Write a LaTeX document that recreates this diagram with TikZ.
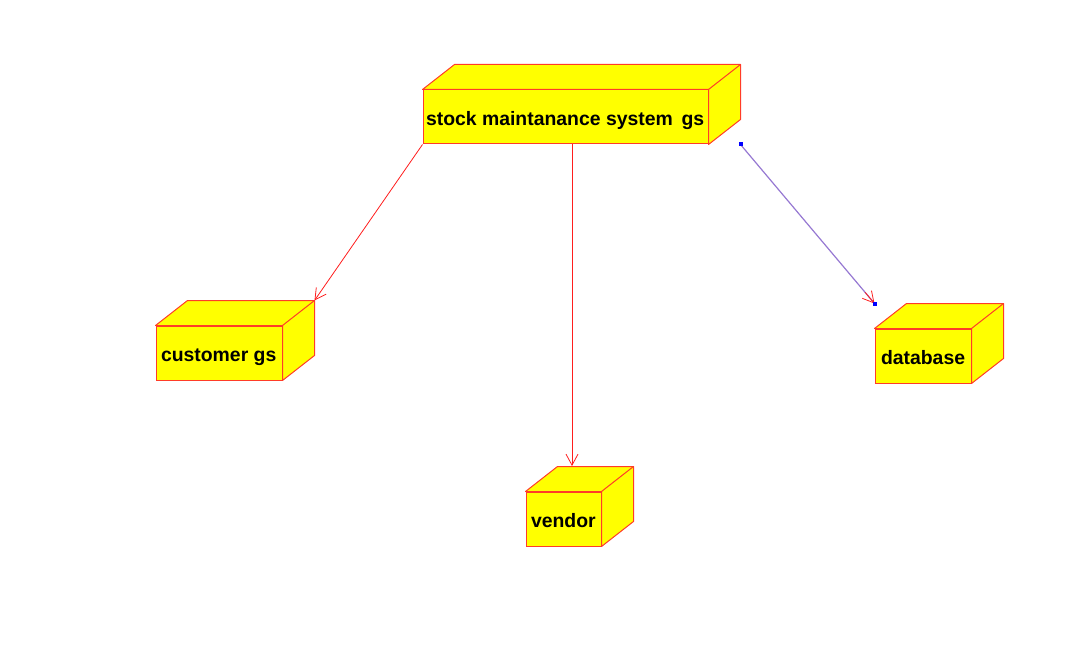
\documentclass[tikz,border=0pt]{standalone}
\usepackage{fontspec}
\setmainfont{Liberation Sans}
\usetikzlibrary{arrows.meta,calc}
\definecolor{boxline}{RGB}{255,60,40}
\definecolor{boxfill}{RGB}{255,255,0}
\definecolor{conn}{RGB}{255,30,30}
\definecolor{selconn}{RGB}{150,120,210}
\definecolor{handle}{RGB}{0,0,255}
\tikzset{
  front/.style={draw=boxline, fill=boxfill, line width=1pt, rectangle, minimum height=54pt,
    inner xsep=0pt, inner ysep=0pt, text height=17pt, text depth=0pt,
    font=\fontsize{19.4}{22}\selectfont\bfseries},
  cubeside/.style={draw=boxline, fill=boxfill, line width=1pt, line join=round},
  barb/.tip={Straight Barb[length=11pt,width=12pt,line width=0.8pt]},
  depend/.style={draw=conn, line width=0.8pt, -barb},
  handlesq/.style={fill=handle, minimum size=4pt, inner sep=0pt, rectangle}
}
\newcommand{\cubetop}[1]{%
  \path[cubeside] (#1.north west) -- ([shift={(32,-25)}]#1.north west) -- ([shift={(32,-25)}]#1.north east)
    -- ([shift={(32,-25)}]#1.south east) -- (#1.south east) -- (#1.north east) -- cycle;
  \draw[cubeside, fill=none] (#1.north east) -- ([shift={(32,-25)}]#1.north east);
}
\begin{document}
\begin{tikzpicture}[x=1pt,y=-1pt]
\useasboundingbox (0,0) rectangle (1066,647);
\node[front, minimum width=285pt] (main) at (565.5,117) {\makebox[279pt][l]{stock maintanance system\ \,gs}};
\node[front, minimum width=126pt] (cust) at (219,353) {\makebox[116pt][l]{customer gs}};
\node[front, minimum width=75pt] (vend) at (563.5,519) {\makebox[65pt][l]{vendor}};
\node[front, minimum width=96pt] (db) at (923,356) {\makebox[84pt][l]{database}};
\cubetop{main}
\cubetop{cust}
\cubetop{vend}
\cubetop{db}
\coordinate (custTR) at ([shift={(32,-25)}]cust.north east);
\coordinate (vendTop) at (572,466);
\coordinate (mainSE) at ([xshift=32]main.south east);
\coordinate (dbNW) at ([yshift=25]db.north west);
\draw[depend] (main.south west) -- (custTR);
\draw[depend] (main.south -| vendTop) -- (vendTop);
\draw[draw=selconn, line width=1.2pt] (mainSE) -- (dbNW);
\path[draw=conn, line width=0.8pt, -barb] ($(mainSE)!0.93!(dbNW)$) -- (dbNW);
\node[handlesq] (h1) at (mainSE) {};
\node[handlesq] (h2) at (dbNW) {};
\end{tikzpicture}
\end{document}
